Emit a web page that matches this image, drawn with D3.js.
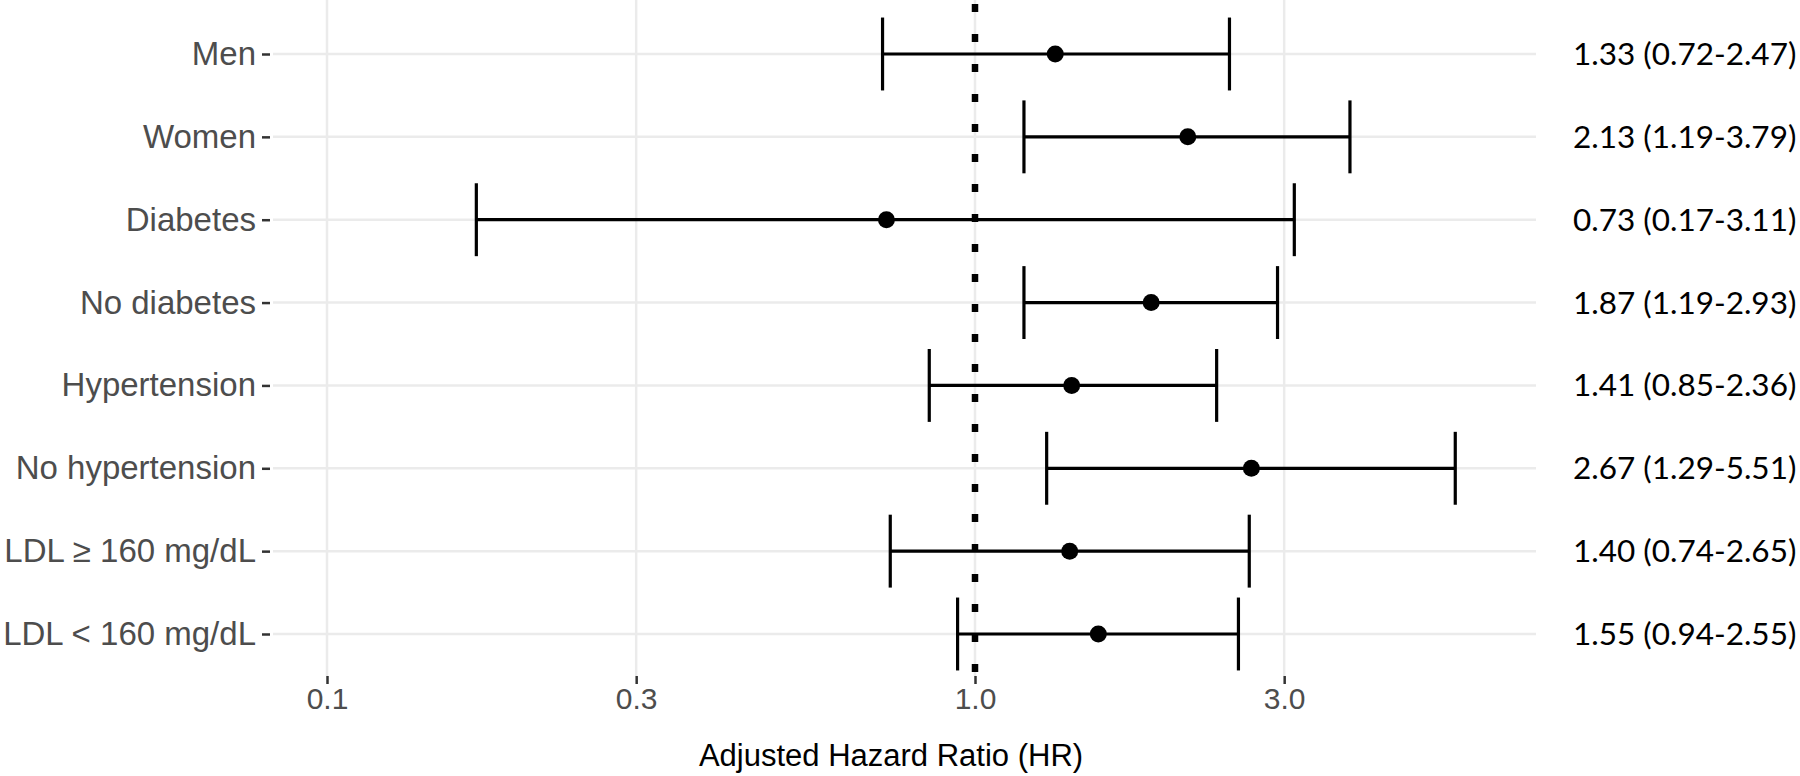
<!DOCTYPE html>
<html><head><meta charset="utf-8">
<script src="https://cdn.jsdelivr.net/npm/d3@7"></script>
<style>html,body{margin:0;padding:0;background:#fff;}svg{display:block;}</style>
</head><body>
<svg id="chart" width="1800" height="776"></svg>
<script>
const categories = ["Men","Women","Diabetes","No diabetes","Hypertension","No hypertension","LDL \u2265 160 mg/dL","LDL < 160 mg/dL"];
const hr    = [1.33, 2.13, 0.73, 1.87, 1.41, 2.67, 1.40, 1.55];
const lower = [0.72, 1.19, 0.17, 1.19, 0.85, 1.29, 0.74, 0.94];
const upper = [2.47, 3.79, 3.11, 2.93, 2.36, 5.51, 2.65, 2.55];
const labels = ["1.33 (0.72-2.47)","2.13 (1.19-3.79)","0.73 (0.17-3.11)","1.87 (1.19-2.93)","1.41 (0.85-2.36)","2.67 (1.29-5.51)","1.40 (0.74-2.65)","1.55 (0.94-2.55)"];
const xTicks = [0.1, 0.3, 1.0, 3.0];
const refLine = 1.0;
const xTitle = "Adjusted Hazard Ratio (HR)";

const svg = d3.select("#chart");
const panel = {left: 273, right: 1536, top: 0, bottom: 676};

const x = d3.scaleLog().domain([0.1, 1]).range([327, 975]);
const y = d3.scalePoint().domain(categories).range([54, 634]);
const step = y.step();

const g = svg.append("g");

// gridlines
g.selectAll(".hgrid").data(categories).join("line")
  .attr("x1", panel.left).attr("x2", panel.right)
  .attr("y1", d => y(d)).attr("y2", d => y(d))
  .attr("stroke", "#ebebeb").attr("stroke-width", 2.5);
g.selectAll(".vgrid").data(xTicks).join("line")
  .attr("x1", d => x(d)).attr("x2", d => x(d))
  .attr("y1", panel.top).attr("y2", panel.bottom)
  .attr("stroke", "#ebebeb").attr("stroke-width", 2.5);

// x axis
const xAxis = d3.axisBottom(x).tickValues(xTicks).tickFormat(d3.format(".1f")).tickSize(8).tickPadding(4);
const xa = g.append("g").attr("transform", `translate(0,${panel.bottom})`).call(xAxis);
xa.select(".domain").remove();
xa.selectAll(".tick line").attr("stroke", "#333").attr("stroke-width", 2.5);
xa.selectAll(".tick text").attr("fill", "#4d4d4d").style("font-family", "Liberation Sans, Arial, sans-serif").style("font-size", "30px");

// y axis
const yAxis = d3.axisLeft(y).tickSize(8).tickPadding(6);
const ya = g.append("g").attr("transform", `translate(${panel.left - 3},0)`).call(yAxis);
ya.select(".domain").remove();
ya.selectAll(".tick line").attr("stroke", "#333").attr("stroke-width", 2.5);
ya.selectAll(".tick text").attr("fill", "#4d4d4d").style("font-family", "Liberation Sans, Arial, sans-serif").style("font-size", "33px");

// reference dotted line
g.append("line")
  .attr("x1", x(refLine)).attr("x2", x(refLine))
  .attr("y1", panel.top + 4).attr("y2", panel.bottom)
  .attr("stroke", "#000").attr("stroke-width", 6.5)
  .attr("stroke-dasharray", "8,22");

// error bars
const capH = step * 0.44;
const rows = categories.map((c, i) => ({c, hr: hr[i], lo: lower[i], hi: upper[i], lab: labels[i]}));
const eb = g.selectAll(".eb").data(rows).join("g");
eb.append("line").attr("x1", d => x(d.lo)).attr("x2", d => x(d.hi))
  .attr("y1", d => y(d.c)).attr("y2", d => y(d.c))
  .attr("stroke", "#000").attr("stroke-width", 3.2);
eb.append("line").attr("x1", d => x(d.lo)).attr("x2", d => x(d.lo))
  .attr("y1", d => y(d.c) - capH).attr("y2", d => y(d.c) + capH)
  .attr("stroke", "#000").attr("stroke-width", 3.2);
eb.append("line").attr("x1", d => x(d.hi)).attr("x2", d => x(d.hi))
  .attr("y1", d => y(d.c) - capH).attr("y2", d => y(d.c) + capH)
  .attr("stroke", "#000").attr("stroke-width", 3.2);
eb.append("circle").attr("cx", d => x(d.hr)).attr("cy", d => y(d.c)).attr("r", 8.5).attr("fill", "#000");

// right-hand labels
g.selectAll(".rlab").data(rows).join("text")
  .attr("x", 1573).attr("y", d => y(d.c)).attr("dy", "0.35em")
  .attr("fill", "#000")
  .style("font-family", "Lato, Carlito, sans-serif").style("font-size", "31.5px")
  .text(d => d.lab);

// x title
g.append("text").attr("x", 891).attr("y", 766).attr("text-anchor", "middle")
  .attr("fill", "#000").style("font-family", "Liberation Sans, Arial, sans-serif").style("font-size", "31px")
  .text(xTitle);
</script>
</body></html>
